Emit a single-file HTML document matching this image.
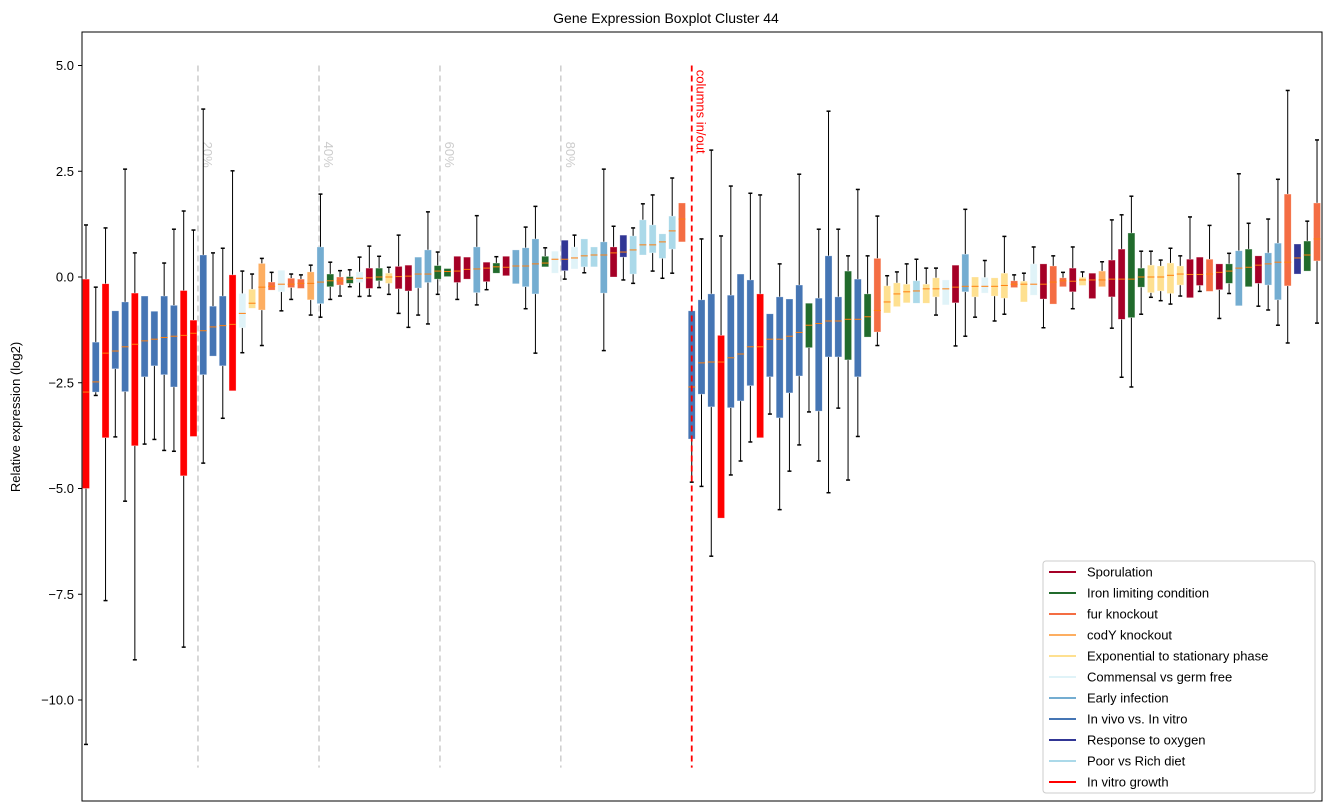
<!DOCTYPE html>
<html><head><meta charset="utf-8">
<style>
body{margin:0;background:#fff;}
svg{display:block;font-family:"Liberation Sans",sans-serif;}
</style></head>
<body>
<svg id="chart" width="1331" height="812" xmlns="http://www.w3.org/2000/svg">
<rect x="0" y="0" width="1331" height="812" fill="#fff"/>
<text x="666" y="23" text-anchor="middle" font-size="14">Gene Expression Boxplot Cluster 44</text>
<text transform="translate(20,417) rotate(-90)" text-anchor="middle" font-size="13">Relative expression (log2)</text>
<g id="plot"></g>
<g id="yaxis"></g>
<rect x="82" y="32" width="1240" height="769" fill="none" stroke="#000" stroke-width="1"/>
<g id="legend"></g>
</svg>
<script>
const groupNames = ["Sporulation","Iron limiting condition","fur knockout","codY knockout","Exponential to stationary phase","Commensal vs germ free","Early infection","In vivo vs. In vitro","Response to oxygen","Poor vs Rich diet","In vitro growth"];
const groupColors = ["#a50026","#216b2c","#f46d43","#fdae61","#fee090","#e0f3f8","#74add1","#4575b4","#313695","#abd9e9","#ff0000"];
// group index per box: S0 I1 F2 C3 E4 M5 A6 V7 R8 P9 G10
const boxGroup = [10,7,10,7,7,10,7,7,7,7,10,10,7,7,7,10,5,4,3,2,5,2,2,3,6,1,2,1,5,0,1,4,0,0,6,6,1,1,0,0,6,0,1,0,6,6,6,1,5,8,5,9,9,6,0,8,9,9,9,9,9,2,
7,7,7,10,7,7,7,10,7,7,7,7,1,7,7,7,1,7,1,2,4,4,4,9,4,4,5,0,6,4,5,4,4,2,4,5,0,2,2,0,4,0,3,0,0,1,1,4,4,4,4,0,0,2,0,1,6,1,0,6,6,2,8,1,2];
const whisLo = [-11.05,-2.8,-7.65,-3.78,-5.3,-9.05,-3.95,-3.84,-4.1,-4.12,-8.75,-3.77,-4.4,-1.87,-3.34,-2.69,-1.79,-0.74,-1.62,-0.31,-0.8,-0.53,-0.27,-0.9,-0.95,-0.53,-0.45,-0.23,-0.46,-0.45,-0.25,-0.41,-0.86,-1.19,-0.9,-1.11,-0.41,0.01,-0.53,-0.05,-0.66,-0.3,0.09,0.03,-0.16,-0.75,-1.8,0.24,0.09,-0.05,0.19,0.1,0.24,-1.74,0.0,-0.07,-0.15,0.52,0.14,-0.03,0.09,0.83,
-4.85,-4.95,-6.6,-5.7,-4.68,-4.35,-3.9,-3.8,-3.24,-5.5,-4.59,-3.97,-3.19,-4.35,-5.1,-3.1,-4.8,-3.77,-1.42,-1.62,-0.85,-0.7,-0.61,-0.62,-0.62,-0.9,-0.66,-1.63,-1.4,-0.95,-0.38,-1.04,-0.88,-0.25,-0.59,-0.43,-1.2,-0.64,-0.23,-0.75,-0.2,-0.51,-0.23,-1.21,-2.37,-2.6,-0.88,-0.48,-0.56,-0.64,-0.45,-0.49,-0.34,-0.34,-0.98,-0.39,-0.68,-0.23,-0.69,-0.78,-1.14,-1.56,0.07,0.14,-1.09];
const q1 = [-5.0,-2.72,-3.8,-2.17,-2.71,-3.99,-2.36,-2.1,-2.31,-2.6,-4.7,-3.77,-2.31,-1.87,-2.1,-2.69,-1.2,-0.74,-0.78,-0.31,-0.35,-0.25,-0.27,-0.54,-0.63,-0.23,-0.19,-0.15,-0.13,-0.27,-0.09,-0.15,-0.28,-0.33,-0.26,-0.13,-0.05,0.01,-0.13,-0.05,-0.37,-0.11,0.09,0.03,-0.16,-0.23,-0.4,0.24,0.09,0.15,0.19,0.24,0.24,-0.38,0.0,0.47,0.07,0.52,0.57,0.44,0.66,0.83,
-3.83,-2.77,-3.07,-5.7,-3.09,-2.93,-2.57,-3.8,-2.36,-3.33,-2.74,-2.34,-1.67,-3.17,-1.89,-1.89,-1.96,-2.36,-1.42,-1.3,-0.85,-0.7,-0.61,-0.62,-0.62,-0.47,-0.66,-0.61,-0.35,-0.47,-0.38,-0.45,-0.5,-0.25,-0.59,-0.43,-0.52,-0.64,-0.23,-0.35,-0.2,-0.51,-0.23,-0.47,-1.0,-0.96,-0.24,-0.37,-0.33,-0.39,-0.19,-0.49,-0.2,-0.34,-0.3,-0.15,-0.68,-0.23,-0.15,-0.19,-0.54,-0.21,0.07,0.14,0.38];
const med = [-2.72,-2.48,-1.8,-1.75,-1.65,-1.59,-1.51,-1.47,-1.43,-1.4,-1.38,-1.33,-1.27,-1.18,-1.15,-1.12,-0.86,-0.62,-0.24,-0.22,-0.17,-0.17,-0.15,-0.15,-0.12,-0.09,-0.09,-0.05,-0.03,-0.02,0.0,0.0,0.01,0.02,0.07,0.07,0.14,0.13,0.14,0.18,0.19,0.21,0.24,0.23,0.26,0.26,0.31,0.33,0.42,0.42,0.45,0.5,0.52,0.52,0.57,0.59,0.64,0.76,0.76,0.83,1.09,1.37,
-2.6,-2.03,-2.01,-2.01,-1.91,-1.82,-1.65,-1.65,-1.47,-1.47,-1.4,-1.31,-1.14,-1.1,-1.04,-1.04,-1.0,-1.0,-0.94,-0.79,-0.59,-0.4,-0.35,-0.33,-0.28,-0.28,-0.28,-0.24,-0.22,-0.22,-0.22,-0.22,-0.2,-0.17,-0.17,-0.17,-0.17,-0.12,-0.09,-0.1,-0.07,-0.07,-0.07,-0.05,-0.05,-0.05,0.0,0.0,0.0,0.04,0.07,0.06,0.06,0.07,0.11,0.14,0.21,0.23,0.28,0.31,0.35,0.35,0.45,0.52,0.9];
const q3 = [-0.05,-1.54,-0.16,-0.8,-0.59,-0.38,-0.45,-0.81,-0.45,-0.67,-0.32,-1.02,0.52,-0.69,-0.45,0.05,-0.39,-0.29,0.32,-0.12,0.16,-0.03,-0.05,0.12,0.71,0.07,0.0,0.01,0.12,0.21,0.21,0.09,0.25,0.28,0.47,0.64,0.27,0.2,0.49,0.47,0.71,0.35,0.33,0.49,0.64,0.69,0.9,0.49,0.61,0.87,0.71,0.9,0.71,0.83,0.71,0.99,0.97,1.35,1.23,1.02,1.44,1.75,
-0.8,-0.54,-0.4,-1.38,-0.43,0.07,-0.07,-0.4,-0.87,-0.47,-0.52,-0.19,-0.62,-0.5,0.5,-0.47,0.14,-0.05,-0.4,0.44,-0.21,-0.14,-0.17,-0.09,-0.17,-0.02,-0.07,0.28,0.54,0.0,-0.01,-0.02,0.09,-0.09,-0.1,0.31,0.31,0.26,-0.02,0.21,-0.01,0.09,0.14,0.4,0.66,1.04,0.21,0.28,0.26,0.33,0.26,0.42,0.47,0.42,0.31,0.31,0.62,0.66,0.5,0.57,0.8,1.96,0.78,0.85,1.75];
const whisHi = [1.23,-0.24,1.16,-0.8,2.55,0.57,-0.45,-0.81,0.33,1.13,1.56,1.11,3.97,0.57,0.68,2.51,0.14,0.07,0.44,0.11,0.16,0.07,0.05,0.28,1.96,0.35,0.15,0.17,0.47,0.73,0.49,0.23,0.99,0.28,0.47,1.54,0.59,0.2,0.49,0.47,1.45,0.35,0.48,0.49,0.64,1.18,1.67,0.69,0.61,0.87,0.99,0.9,0.71,2.55,1.2,0.99,1.16,1.73,1.94,1.02,2.34,1.75,
-0.8,0.9,3.0,0.97,2.15,0.07,1.98,1.94,-0.87,0.31,-0.52,2.43,-0.62,1.13,3.92,1.13,0.5,2.07,0.5,1.44,0.03,0.12,0.31,0.42,0.21,0.21,-0.07,0.28,1.6,0.0,0.39,-0.02,0.96,0.05,0.09,0.71,0.31,0.5,0.11,0.71,0.12,0.09,0.36,1.35,1.47,1.91,0.61,0.61,0.4,0.68,0.5,1.42,0.47,1.22,0.31,0.56,2.44,1.27,0.5,1.37,2.31,4.41,0.78,1.32,3.24];
const yTicks = [5.0,2.5,0.0,-2.5,-5.0,-7.5,-10.0];
const yTickLabels = ["5.0","2.5","0.0","\u22122.5","\u22125.0","\u22127.5","\u221210.0"];
const refLinePos = [11.46,23.85,36.23,48.6];
const refLineLabels = ["20%","40%","60%","80%"];
const splitPos = [62.0];
const splitLabels = ["columns in/out"];

const NS="http://www.w3.org/2000/svg";
function yScale(v){return 277 - v*42.3;}
function xScale(i){return 86 + i*9.77;}
function mk(tag,attrs,parent){const e=document.createElementNS(NS,tag);for(const k in attrs)e.setAttribute(k,attrs[k]);parent.appendChild(e);return e;}
const plot=document.getElementById('plot');
const yaxis=document.getElementById('yaxis');
const legend=document.getElementById('legend');

// reference lines
refLinePos.forEach((p,k)=>{
  const x=xScale(p);
  const l=mk('line',{x1:x,x2:x,y1:yScale(5.0),y2:yScale(-11.6),stroke:'#cccccc','stroke-width':1.5,'stroke-dasharray':'6,4'},plot);
  
  
  const t=mk('text',{transform:'translate('+(x+5)+','+(yScale(3.2))+') rotate(90)','font-size':13,fill:'#cccccc'},plot);
  t.textContent=refLineLabels[k];
  
  
});

// boxes
for(let i=0;i<med.length;i++){
  const g=mk('g',{},plot);
  
  
  const x=xScale(i), c=groupColors[boxGroup[i]], w=7;
  const wl=mk('line',{x1:x,x2:x,y1:yScale(q3[i]),y2:yScale(whisHi[i]),stroke:'#000','stroke-width':1},g);
  
  
  const wl2=mk('line',{x1:x,x2:x,y1:yScale(q1[i]),y2:yScale(whisLo[i]),stroke:'#000','stroke-width':1},g);
  
  
  if(whisHi[i]>q3[i]){
    const cp=mk('line',{x1:x-2,x2:x+2,y1:yScale(whisHi[i]),y2:yScale(whisHi[i]),stroke:'#000','stroke-width':1.5},g);
    
    
  }
  if(whisLo[i]<q1[i]){
    const cp=mk('line',{x1:x-2,x2:x+2,y1:yScale(whisLo[i]),y2:yScale(whisLo[i]),stroke:'#000','stroke-width':1.5},g);
    
    
  }
  const r=mk('rect',{x:x-w/2,y:yScale(q3[i]),width:w,height:Math.max(1,yScale(q1[i])-yScale(q3[i])),fill:c,stroke:'rgba(255,255,255,0.5)','stroke-width':0.6},g);
  
  
  const m=mk('line',{x1:x-w/2,x2:x+w/2,y1:yScale(med[i]),y2:yScale(med[i]),stroke:'#ff7f0e','stroke-width':1},g);
  
  
}

// split line
splitPos.forEach((p,k)=>{
  const x=xScale(p);
  const l=mk('line',{x1:x,x2:x,y1:yScale(5.0),y2:yScale(-11.6),stroke:'#ff0000','stroke-width':1.8,'stroke-dasharray':'6,4'},plot);
  
  
  const t=mk('text',{transform:'translate('+(x+5)+','+(yScale(4.9))+') rotate(90)','font-size':13,fill:'#ff0000'},plot);
  t.textContent=splitLabels[k];
  
  
});

// y axis
yTicks.forEach((v,k)=>{
  const y=yScale(v);
  const tk=mk('line',{x1:78,x2:82,y1:y,y2:y,stroke:'#000','stroke-width':1},yaxis);
  
  
  const t=mk('text',{x:74,y:y+4.5,'text-anchor':'end','font-size':13},yaxis);
  t.textContent=yTickLabels[k];
  
  
});

// legend
const lb=mk('rect',{x:1043,y:561,width:272,height:232,rx:3,fill:'#fff','fill-opacity':0.8,stroke:'#cccccc','stroke-width':1},legend);


groupNames.forEach((n,k)=>{
  const y=572+k*21;
  const g=mk('g',{},legend);
  
  
  const l=mk('line',{x1:1049,x2:1076,y1:y,y2:y,stroke:groupColors[k],'stroke-width':2},g);
  
  
  const t=mk('text',{x:1087,y:y+4.5,'font-size':13},g);
  t.textContent=n;
  
  
});
</script>
</body></html>
